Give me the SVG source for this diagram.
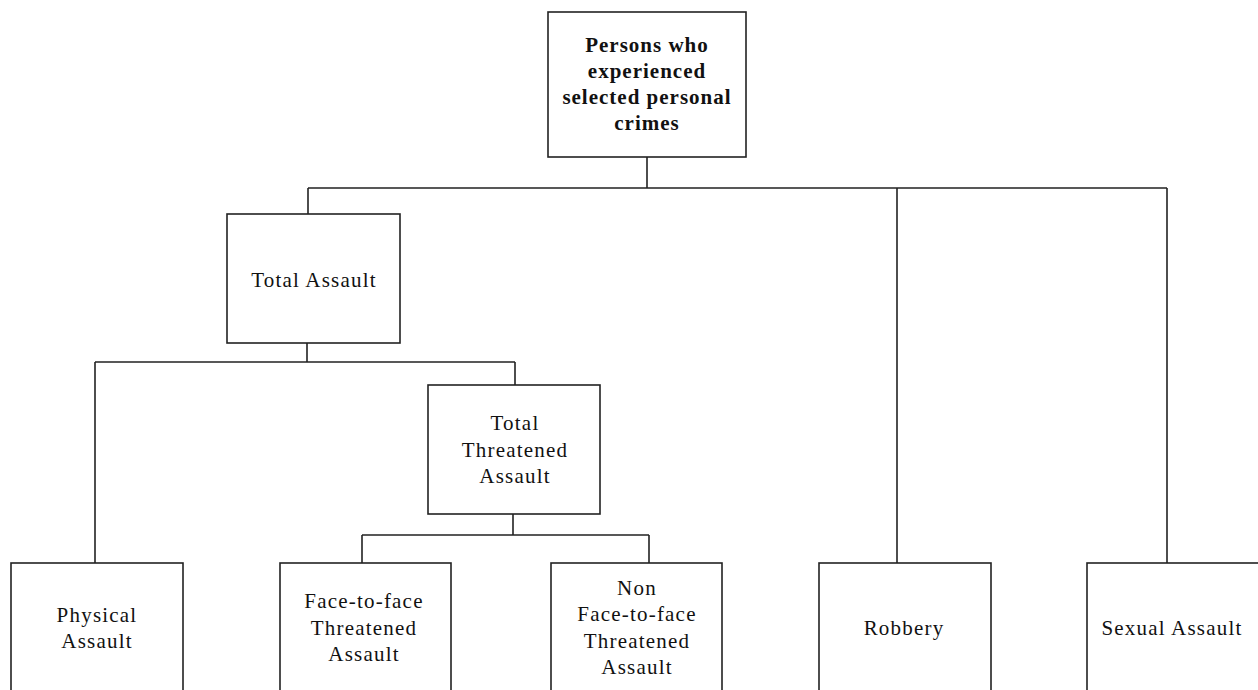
<svg xmlns="http://www.w3.org/2000/svg" width="1258" height="690" viewBox="0 0 1258 690">
<style>
.box{fill:#fff;stroke:#222;stroke-width:1.6}
.ln{fill:none;stroke:#222;stroke-width:1.6}
text{font-family:"Liberation Serif","Times New Roman",serif;font-size:21px;letter-spacing:1.2px;fill:#111;text-anchor:middle}
.b{font-weight:bold;letter-spacing:1px}
</style>
<rect width="1258" height="690" fill="#fff"/>
<g id="connectors">
<path class="ln" d="M647 157V188M308 188H1167M308 188V214M897 188V563M1167 188V563"/>
<path class="ln" d="M307 343V362M95 362H515M95 362V563M515 362V385"/>
<path class="ln" d="M513 514V535M362 535H649M362 535V563M649 535V563"/>
</g>
<g id="n-root"><rect class="box" x="548" y="12" width="198" height="145"/>
<text class="b" x="647" y="52">Persons who</text>
<text class="b" x="647" y="78">experienced</text>
<text class="b" x="647" y="104">selected personal</text>
<text class="b" x="647" y="130">crimes</text></g>
<g id="n-total"><rect class="box" x="227" y="214" width="173" height="129"/>
<text x="314" y="287">Total Assault</text></g>
<g id="n-threat"><rect class="box" x="428" y="385" width="172" height="129"/>
<text x="515" y="430">Total</text>
<text x="515" y="457">Threatened</text>
<text x="515" y="483">Assault</text></g>
<g id="n-phys"><rect class="box" x="11" y="563" width="172" height="140"/>
<text x="97" y="622">Physical</text>
<text x="97" y="648">Assault</text></g>
<g id="n-face"><rect class="box" x="280" y="563" width="171" height="140"/>
<text x="364" y="608">Face-to-face</text>
<text x="364" y="635">Threatened</text>
<text x="364" y="661">Assault</text></g>
<g id="n-nonface"><rect class="box" x="551" y="563" width="171" height="140"/>
<text x="637" y="595">Non</text>
<text x="637" y="621">Face-to-face</text>
<text x="637" y="648">Threatened</text>
<text x="637" y="674">Assault</text></g>
<g id="n-robbery"><rect class="box" x="819" y="563" width="172" height="140"/>
<text x="904" y="635">Robbery</text></g>
<g id="n-sexual"><rect class="box" x="1087" y="563" width="172" height="140"/>
<text x="1172" y="635">Sexual Assault</text></g>
</svg>
